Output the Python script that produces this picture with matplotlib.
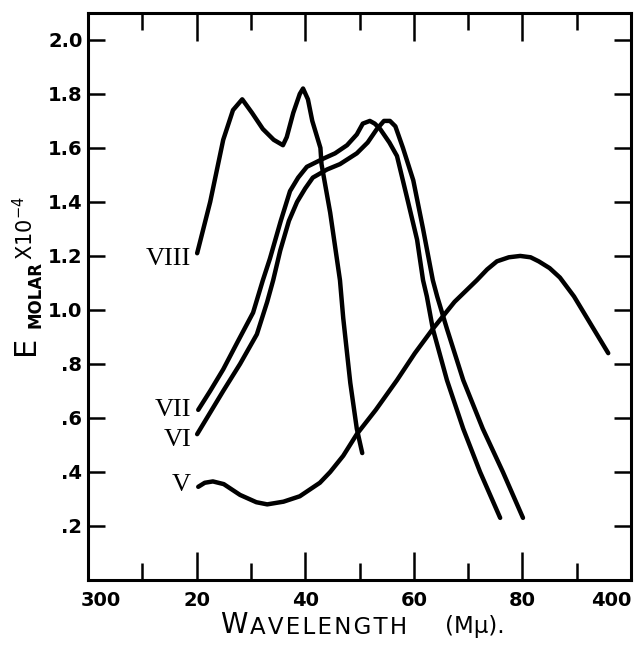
import matplotlib.pyplot as plt
from matplotlib.ticker import FixedLocator
from matplotlib.transforms import ScaledTranslation

# wavelength (m\u03bc) vs E_molar x 10^-4
wl_v = [320.3, 321.5, 323, 325, 328, 331, 333, 336, 339, 342.7, 344.6, 347, 349.5, 353,
        356.9, 360.2, 363.5, 367.5, 371.6, 373.5, 375.3, 377.5, 379.6, 381.5, 383, 385,
        386.9, 389.5, 391.9, 395.8]
e_v = [0.345, 0.36, 0.365, 0.355, 0.315, 0.288, 0.28, 0.29, 0.31, 0.36, 0.40, 0.46, 0.54, 0.63,
       0.74, 0.84, 0.93, 1.03, 1.11, 1.15, 1.18, 1.195, 1.20, 1.195, 1.18, 1.155,
       1.12, 1.05, 0.97, 0.84]

wl_vi = [320.1, 322.5, 324.9, 328, 331.1, 333, 334.1, 335.4, 337, 338.5, 340, 341.4, 344, 346.4,
         349.5, 351.5, 353.2, 354.5, 355.6, 356.6, 358.0, 359.9, 361.7, 363.5, 364.3, 366.1,
         369.1, 372.7, 376.4, 380.1]
e_vi = [0.54, 0.62, 0.70, 0.80, 0.91, 1.03, 1.11, 1.22, 1.33, 1.40, 1.45, 1.49, 1.52, 1.54,
        1.58, 1.62, 1.67, 1.70, 1.70, 1.68, 1.60, 1.48, 1.30, 1.11, 1.05, 0.93,
        0.74, 0.56, 0.40, 0.23]

wl_vii = [320.3, 322.5, 324.9, 327.5, 330.4, 332.2, 333.5, 335.5, 337.2, 338.7, 340.3, 343.3,
          345.5, 347.7, 349.5, 350.6, 351.9, 352.8, 353.8, 355.5, 356.9, 358.7, 360.6, 361.7,
          362.4, 363.5, 366.1, 369.1, 372.2, 375.9]
e_vii = [0.63, 0.70, 0.78, 0.88, 0.99, 1.11, 1.19, 1.33, 1.44, 1.49, 1.53, 1.56,
         1.58, 1.61, 1.65, 1.69, 1.70, 1.69, 1.67, 1.62, 1.57, 1.42, 1.26, 1.11,
         1.05, 0.93, 0.74, 0.56, 0.40, 0.23]

wl_viii = [320.1, 322.5, 324.9, 326.7, 328.4, 330.2, 332.2, 334.2, 335.9, 336.6, 337.8, 339.0,
           339.6, 340.5, 341.3, 342.8, 343.0, 344.6, 346.4, 347.0, 348.3, 349.5, 350.5]
e_viii = [1.21, 1.40, 1.63, 1.74, 1.78, 1.73, 1.67, 1.63, 1.61, 1.64, 1.73, 1.80,
          1.82, 1.78, 1.70, 1.60, 1.54, 1.36, 1.11, 0.97, 0.73, 0.56, 0.47]

series = [('V', wl_v, e_v), ('VI', wl_vi, e_vi), ('VII', wl_vii, e_vii), ('VIII', wl_viii, e_viii)]

x_ticks = [300, 320, 340, 360, 380, 400]
x_tick_labels = ['300', '20', '40', '60', '80', '400']
x_minor = [310, 330, 350, 370, 390]
y_ticks = [0.2, 0.4, 0.6, 0.8, 1.0, 1.2, 1.4, 1.6, 1.8, 2.0]
y_tick_labels = ['.2', '.4', '.6', '.8', '1.0', '1.2', '1.4', '1.6', '1.8', '2.0']

label_pos = {'V': (319.0, 0.35), 'VI': (319.0, 0.52), 'VII': (319.0, 0.63), 'VIII': (319.0, 1.19)}

fig = plt.figure(figsize=(6.4, 6.45), dpi=100)
ax = fig.add_axes([0.1375, 0.1008, 0.8485, 0.8792])

for name, xs, ys in series:
    ax.plot(xs, ys, color='black', linewidth=3.2, solid_capstyle='round', solid_joinstyle='round')
    lx, ly = label_pos[name]
    ax.text(lx, ly, name, family='Liberation Serif', fontsize=19, ha='right', va='center')

ax.set_xlim(300, 400)
ax.set_ylim(0, 2.1)
ax.xaxis.set_major_locator(FixedLocator(x_ticks))
ax.xaxis.set_minor_locator(FixedLocator(x_minor))
ax.set_xticklabels(x_tick_labels)
ax.yaxis.set_major_locator(FixedLocator(y_ticks))
ax.set_yticklabels(y_tick_labels)

ax.tick_params(axis='both', which='both', direction='in', top=True, right=True, color='black')
ax.tick_params(axis='x', which='major', length=20, width=1.8, labelsize=14, pad=8)
ax.tick_params(axis='x', which='minor', length=12, width=1.8)
ax.tick_params(axis='y', which='major', length=12, width=1.8, labelsize=14, pad=4)
for lab in ax.get_xticklabels() + ax.get_yticklabels():
    lab.set_fontweight('bold')
# end labels are nudged inward as in the print
xlabs = ax.get_xticklabels()
xlabs[0].set_transform(xlabs[0].get_transform() + ScaledTranslation(0.13, 0, fig.dpi_scale_trans))
xlabs[-1].set_transform(xlabs[-1].get_transform() + ScaledTranslation(-0.2, 0, fig.dpi_scale_trans))
for sp in ax.spines.values():
    sp.set_linewidth(2.2)

# axis titles drawn in pieces to mimic the lettering
fig.text(0.04, 1 - 345 / 645, 'E', rotation=90, fontsize=22, ha='center', va='center')
fig.text(0.056, 1 - 295 / 645, 'MOLAR', rotation=90, fontsize=12, fontweight='bold',
         ha='center', va='center')
fig.text(0.038, 1 - 228 / 645, r'X10$^{-4}$', rotation=90, fontsize=15, ha='center', va='center')

fig.text(220 / 640, 1 - 625 / 645, 'W', fontsize=20, ha='left', va='center')
fig.text(250 / 640, 1 - 627 / 645, '\u200a'.join('AVELENGTH'), fontsize=16.5, ha='left', va='center')
fig.text(445 / 640, 1 - 627 / 645, '(M\u03bc).', fontsize=16.5, ha='left', va='center')

fig.savefig('out.png', dpi=100)
